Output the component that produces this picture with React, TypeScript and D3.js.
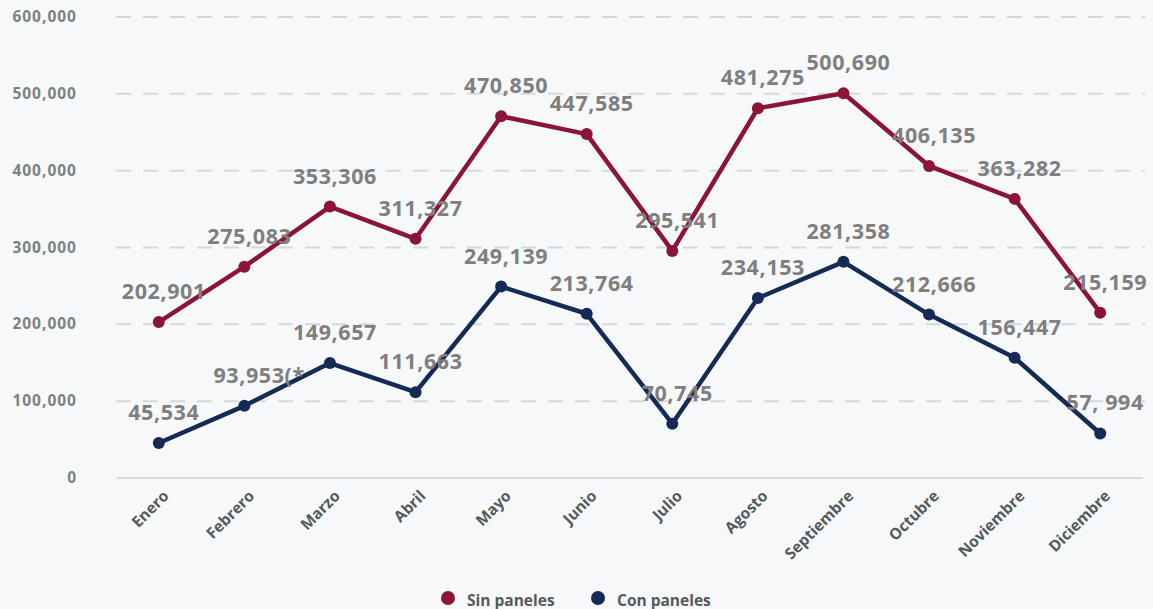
import React from "react";
import * as d3 from "d3";

const months = ["Enero", "Febrero", "Marzo", "Abril", "Mayo", "Junio", "Julio", "Agosto", "Septiembre", "Octubre", "Noviembre", "Diciembre"];
const sinPaneles = [202901, 275083, 353306, 311327, 470850, 447585, 295541, 481275, 500690, 406135, 363282, 215159];
const conPaneles = [45534, 93953, 149657, 111663, 249139, 213764, 70745, 234153, 281358, 212666, 156447, 57994];
const sinLabels = ["202,901", "275,083", "353,306", "311,327", "470,850", "447,585", "295,541", "481,275", "500,690", "406,135", "363,282", "215,159"];
const conLabels = ["45,534", "93,953(*", "149,657", "111,663", "249,139", "213,764", "70,745", "234,153", "281,358", "212,666", "156,447", "57, 994"];
const yTicks = [0, 100000, 200000, 300000, 400000, 500000, 600000];
const seriesNames = ["Sin paneles", "Con paneles"];

const W = 1153, H = 609;
const RED = "#8c1436";
const NAVY = "#152a57";

export default function App() {
  const x = d3.scaleBand().domain(months).range([116, 1143]);
  const y = d3.scaleLinear().domain([0, 600000]).range([478, 17]);
  const cx = (m: string) => (x(m) as number) + x.bandwidth() / 2;
  const line = d3.line<number>().x((_, i) => cx(months[i])).y(d => y(d));
  const fmt = d3.format(",");

  const series = [
    { name: seriesNames[0], values: sinPaneles, labels: sinLabels, color: RED },
    { name: seriesNames[1], values: conPaneles, labels: conLabels, color: NAVY },
  ];

  return (
    <svg width={W} height={H} style={{ position: "absolute", left: 0, top: 0, background: "#f7f8fa" }}
      fontFamily="'Open Sans', sans-serif">
      {/* faint background shapes */}
      <g fill="none" stroke="#ffffff" strokeWidth={1.5} opacity={0.6}>
        <polyline points="0,423 137,342 137,105 40,40" />
        <polyline points="257,490 257,609" />
        <polyline points="1010,410 1153,330" />
      </g>

      {yTicks.map(t => (
        <g key={t}>
          {t > 0 && (
            <line x1={116} x2={1145} y1={y(t)} y2={y(t)} stroke="#d6d7d9" strokeWidth={2} strokeDasharray="15,12" />
          )}
          <text x={77} y={y(t) + 5} textAnchor="end" fontSize={15.5} fontWeight={700} fill="#7b8283" letterSpacing={1}>
            {fmt(t)}
          </text>
        </g>
      ))}
      <line x1={117} x2={1143} y1={478} y2={478} stroke="#d8d9db" strokeWidth={2} />

      {months.map(m => (
        <text key={m} transform={`translate(${cx(m) + 11},${497}) rotate(-45)`} textAnchor="end"
          fontSize={15.5} fontWeight={700} fill="#555a5c">
          {m}
        </text>
      ))}

      {series.map(s => (
        <g key={s.name}>
          <path d={line(s.values) as string} fill="none" stroke={s.color} strokeWidth={4.5} strokeLinejoin="round" />
          {s.values.map((v, i) => (
            <circle key={i} cx={cx(months[i])} cy={y(v)} r={6} fill={s.color} />
          ))}
        </g>
      ))}
      {series.map(s => (
        <g key={s.name + "-labels"}>
          {s.values.map((v, i) => {
            const lab = s.labels[i];
            const partial = lab.endsWith("(*");
            return (
              <text key={i} x={cx(months[i]) + (partial ? -31 : 5)} y={y(v) - 23}
                textAnchor={partial ? "start" : "middle"} fontSize={21.5} fontWeight={700} fill="#7f7f7f" letterSpacing={0.6}>
                {lab}
              </text>
            );
          })}
        </g>
      ))}

      {series.map((s, i) => (
        <g key={s.name + "-legend"} transform={`translate(${448 + i * 150},598)`}>
          <circle r={7} fill={s.color} />
          <text x={19} y={8} fontSize={15.5} fontWeight={700} fill="#555a5c">{s.name}</text>
        </g>
      ))}
    </svg>
  );
}
